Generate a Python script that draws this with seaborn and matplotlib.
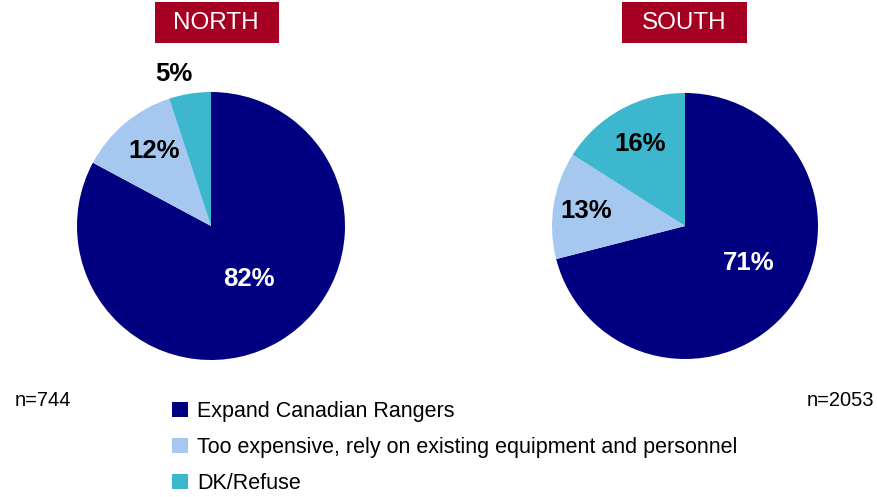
import numpy as np
import matplotlib
matplotlib.use("Agg")
import matplotlib.pyplot as plt
from matplotlib.patches import Rectangle
import seaborn as sns

sns.set_theme(style="white")
plt.rcParams['font.family'] = ['Liberation Sans', 'DejaVu Sans']
plt.rcParams['text.color'] = 'black'

categories = ["Expand Canadian Rangers",
              "Too expensive, rely on existing equipment and personnel",
              "DK/Refuse"]
north_values = [82, 12, 5]
south_values = [71, 13, 16]
regions = ["NORTH", "SOUTH"]
sample_sizes = ["n=744", "n=2053"]

colors = ["#000080", "#A6C8F0", "#3DB7CE"]
label_colors = ["white", "black", "black"]
# label placement: distance from centre (radius units) and angular nudge (deg)
label_dist_n = [0.485, 0.70, 1.166]
label_rot_n = [4.5, -2.8, 4.5]
label_dist_s = [0.556, 0.753, 0.70]
label_rot_s = [7.8, 0.4, 0.0]

W, H = 877, 497
fig = plt.figure(figsize=(W / 100, H / 100), dpi=100)

def ax_for(cx, cy, r):
    return fig.add_axes([(cx - r) / W, (H - cy - r) / H, 2 * r / W, 2 * r / H])

axes = [ax_for(211, 226, 134), ax_for(685, 226, 133)]
all_vals = [north_values, south_values]
dists = [label_dist_n, label_dist_s]
rots = [label_rot_n, label_rot_s]

handles = None
for ax, vals, dd, rr in zip(axes, all_vals, dists, rots):
    wedges, _ = ax.pie(vals, colors=colors, startangle=90, counterclock=False,
                       wedgeprops=dict(linewidth=0), radius=1.0)
    for w, v, d, dr, c in zip(wedges, vals, dd, rr, label_colors):
        th = np.deg2rad((w.theta1 + w.theta2) / 2 + dr)
        ax.text(d * np.cos(th), d * np.sin(th), f"{v}%", ha="center", va="center",
                fontsize=18.5, fontweight="bold", color=c)
    ax.set_xlim(-1, 1)
    ax.set_ylim(-1, 1)
    ax.set_aspect("equal")
    ax.axis("off")
    handles = wedges

# title boxes
boxes = [(155, 279, 216), (622, 747, 684)]
for name, (x0, x1, cx) in zip(regions, boxes):
    fig.patches.append(Rectangle((x0 / W, 1 - 43 / H), (x1 - x0) / W, 41 / H,
                                 transform=fig.transFigure, facecolor="#A50021",
                                 edgecolor="none", zorder=0))
    fig.text(cx / W, 1 - 23 / H, name, ha="center", va="center", color="white",
             fontsize=17.5)

fig.text(15 / W, 1 - 401 / H, sample_sizes[0], ha="left", va="center", fontsize=14.5, color="black")
fig.text(874 / W, 1 - 401 / H, sample_sizes[1], ha="right", va="center", fontsize=14.5, color="black")

fig.legend(handles, categories, loc="upper left",
           bbox_to_anchor=(172 / W, 1 - 401 / H), frameon=False,
           fontsize=15.5, handlelength=0.74, handleheight=0.74,
           handletextpad=0.42, labelspacing=0.7, borderaxespad=0, borderpad=0,
           labelcolor="black")

fig.savefig("out.png", dpi=100)
